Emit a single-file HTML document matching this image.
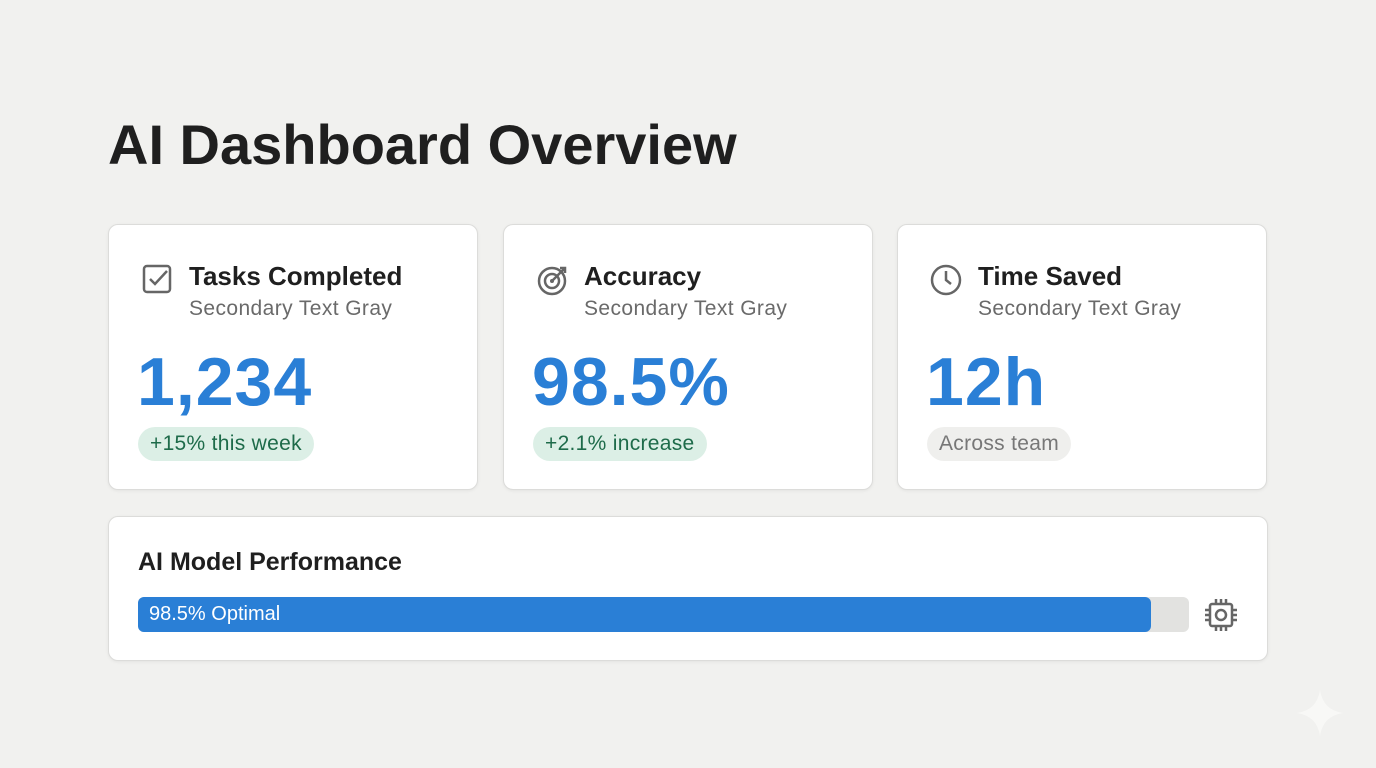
<!DOCTYPE html>
<html><head><style>
body{margin:0;width:1376px;height:768px;background:#f1f1ef;font-family:"Liberation Sans",sans-serif;position:relative;overflow:hidden}
.t{position:absolute;left:108px;top:112px;font-size:56px;font-weight:bold;color:#1f1f1f;letter-spacing:0px}
.card{position:absolute;top:224px;width:368px;height:264px;background:#fff;border:1px solid #dcdcda;border-radius:10px;box-shadow:0 1px 3px rgba(0,0,0,.06)}
.h{position:absolute;left:80px;top:36px;font-size:26px;font-weight:bold;color:#1f1f1f}
.s{position:absolute;left:80px;top:72px;font-size:21px;color:#6a6a6a;letter-spacing:0.4px}
.n{position:absolute;left:28px;top:118px;font-size:68px;font-weight:bold;color:#2a7fd6;letter-spacing:1px}
.p{position:absolute;left:29px;top:202px;height:34px;line-height:34px;padding:0 12px;border-radius:17px;background:#dcefe6;color:#1e6b4a;font-size:21px;letter-spacing:0.3px}
.ic{position:absolute;left:32px;top:38px}
</style></head><body>
<div class="t">AI Dashboard Overview</div>
<div class="card" style="left:108px">
<svg class="ic" width="32" height="32" viewBox="0 0 32 32"><rect x="3" y="3" width="26" height="26" rx="3" fill="none" stroke="#666" stroke-width="2.5"/><path d="M9 16l5 5 12-13" fill="none" stroke="#666" stroke-width="2.5"/></svg>
<div class="h">Tasks Completed</div><div class="s">Secondary Text Gray</div><div class="n">1,234</div><div class="p">+15% this week</div></div>
<div class="card" style="left:503px">
<svg class="ic" width="34" height="34" viewBox="0 0 34 34"><circle cx="16" cy="18" r="13" fill="none" stroke="#666" stroke-width="2.5"/><circle cx="16" cy="18" r="7" fill="none" stroke="#666" stroke-width="2.5"/><circle cx="16" cy="18" r="2" fill="#666"/><path d="M16 18L29 5M24 5h5v5" fill="none" stroke="#666" stroke-width="2.5"/></svg>
<div class="h">Accuracy</div><div class="s">Secondary Text Gray</div><div class="n">98.5%</div><div class="p">+2.1% increase</div></div>
<div class="card" style="left:897px">
<svg class="ic" width="34" height="34" viewBox="0 0 34 34"><circle cx="16" cy="17" r="14" fill="none" stroke="#666" stroke-width="2.5"/><path d="M16 8v9l5 4" fill="none" stroke="#666" stroke-width="2.5"/></svg>
<div class="h">Time Saved</div><div class="s">Secondary Text Gray</div><div class="n">12h</div><div class="p" style="background:#efefed;color:#777">Across team</div></div>
<div class="card" style="left:108px;top:516px;width:1158px;height:143px">
<div style="position:absolute;left:29px;top:31px;font-size:25px;font-weight:bold;color:#1f1f1f">AI Model Performance</div>
<div style="position:absolute;left:29px;top:80px;width:1051px;height:35px;border-radius:6px;background:#e2e2e0"></div>
<div style="position:absolute;left:29px;top:80px;width:1013px;height:35px;border-radius:6px;background:#2a7fd6;color:#fff;font-size:20px;line-height:35px;text-indent:11px">98.5% Optimal</div>
<svg style="position:absolute;left:1094px;top:80px" width="36" height="36" viewBox="0 0 36 36" fill="none" stroke="#666" stroke-width="2.5"><rect x="7" y="7" width="22" height="22" rx="2"/><circle cx="18" cy="18" r="5"/><path d="M13 2v5M18 2v5M23 2v5M13 29v5M18 29v5M23 29v5M2 13h5M2 18h5M2 23h5M29 13h5M29 18h5M29 23h5"/></svg>
</div>
<svg style="position:absolute;left:1295px;top:688px" width="50" height="50" viewBox="0 0 50 50"><path d="M25 2Q28 22 48 25Q28 28 25 48Q22 28 2 25Q22 22 25 2Z" fill="#f8f8f6"/></svg>
</body></html>
